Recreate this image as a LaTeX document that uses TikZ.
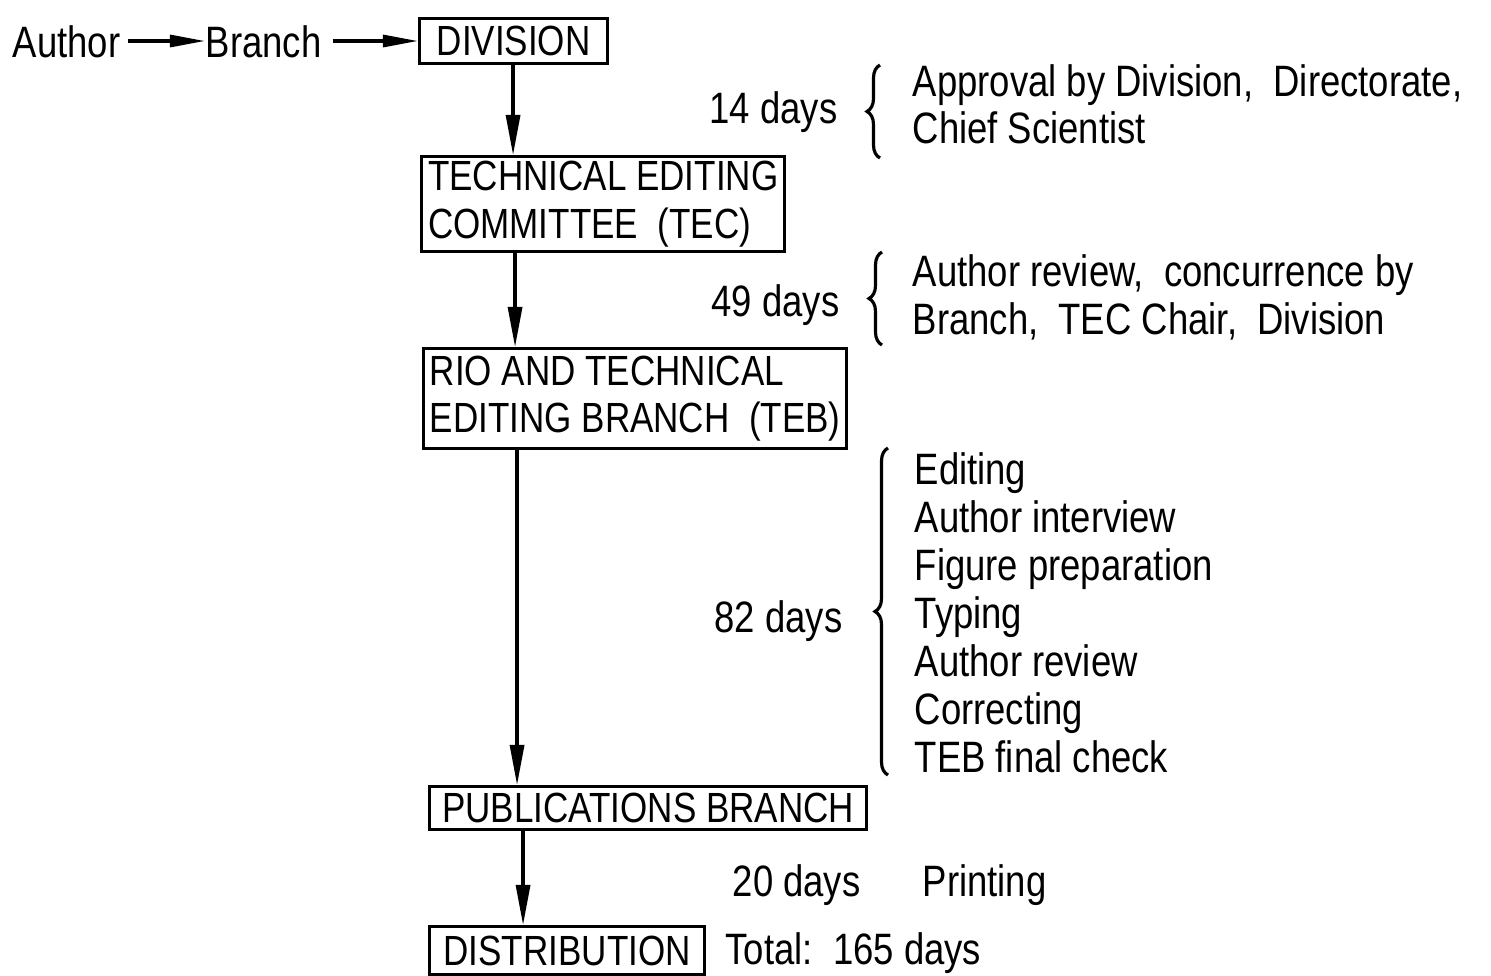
\documentclass[tikz,border=0pt]{standalone}
\usepackage{fontspec}
\setmainfont{Liberation Sans}[FakeStretch=0.83]
\usetikzlibrary{arrows.meta,decorations.pathreplacing}

\begin{document}
\begin{tikzpicture}[x=0.01cm, y=-0.01cm,
    every node/.style={font=\fontsize{12.5}{13.6}\selectfont},
    lbl/.style={inner sep=0pt, anchor=base west},
    dur/.style={inner sep=0pt, anchor=base east},
    box/.style={draw, line width=0.9pt, anchor=north west, align=left, inner sep=1pt,
                font=\fontsize{12}{13.6}\selectfont},
    flow/.style={-{Triangle[length=0.4cm,width=0.14cm]}, line width=0.9pt},
    side/.style={-{Triangle[length=0.35cm,width=0.12cm]}, line width=0.9pt},
    brc/.style={decorate, decoration={brace, amplitude=0.13cm}, line width=0.9pt}]
    \useasboundingbox (0,0) rectangle (1491,975);

    % Boxes of the chain
    \node[lbl] (author) at (12,57) {Author};
    \node[lbl] (branch) at (205,57) {Branch};
    \node[box, minimum width=1.88cm, minimum height=0.45cm] (division) at (418,17) {DIVISION};
    \node[box, minimum width=3.63cm, minimum height=0.95cm] (tec) at (420,155) {TECHNICAL EDITING\\COMMITTEE\ \ (TEC)};
    \node[box, minimum width=4.23cm, minimum height=1.0cm] (rio) at (422,347) {RIO AND TECHNICAL\\EDITING BRANCH\ \ (TEB)};
    \node[box, minimum width=4.37cm, minimum height=0.43cm] (pub) at (428,785) {PUBLICATIONS BRANCH};
    \node[box, minimum width=2.75cm, minimum height=0.48cm] (dist) at (428,925) {DISTRIBUTION};

    % Arrows
    \draw[side] ([xshift=2pt]author.base east) ++(0,-16) coordinate (a1) -- (a1 -| branch.west);
    \draw[side] ([xshift=3pt]branch.base east) ++(0,-16) coordinate (a2) -- (a2 -| division.west);
    \foreach \a/\b in {division/tec, tec/rio, rio/pub, pub/dist}
        {\draw[flow] ([xshift=0.95cm]\a.south west) -- ([xshift=0.95cm]\a.south west |- \b.north);}

    % Times and steps
    \node[dur] (d14) at (838,123) {14 days};
    \draw[brc] (880,158) -- (880,65);
    \node[lbl] (s14a) at (912,96) {Approval by Division,\ \ Directorate,};
    \node[lbl] (s14b) at (912,143) {Chief Scientist};

    \node[dur] (d49) at (840,316) {49 days};
    \draw[brc] (882,345) -- (882,252);
    \node[lbl] (s49a) at (912,286) {Author review,\ \ concurrence by};
    \node[lbl] (s49b) at (912,334) {Branch,\ \ TEC Chair,\ \ Division};

    \node[dur] (d82) at (843,632) {82 days};
    \draw[brc] (888,775) -- (888,448);
    \foreach \t [count=\i] in {Editing, Author interview, Figure preparation, Typing,
                               Author review, Correcting, TEB final check}
        {\node[lbl] (s82\i) at (914,436+48*\i) {\t};}

    \node[lbl] (d20) at (732,896) {20 days};
    \node[lbl] (s20) at (922,896) {Printing};
    \node[lbl] (total) at (725,964) {Total:\ \ 165 days};
\end{tikzpicture}
\end{document}
